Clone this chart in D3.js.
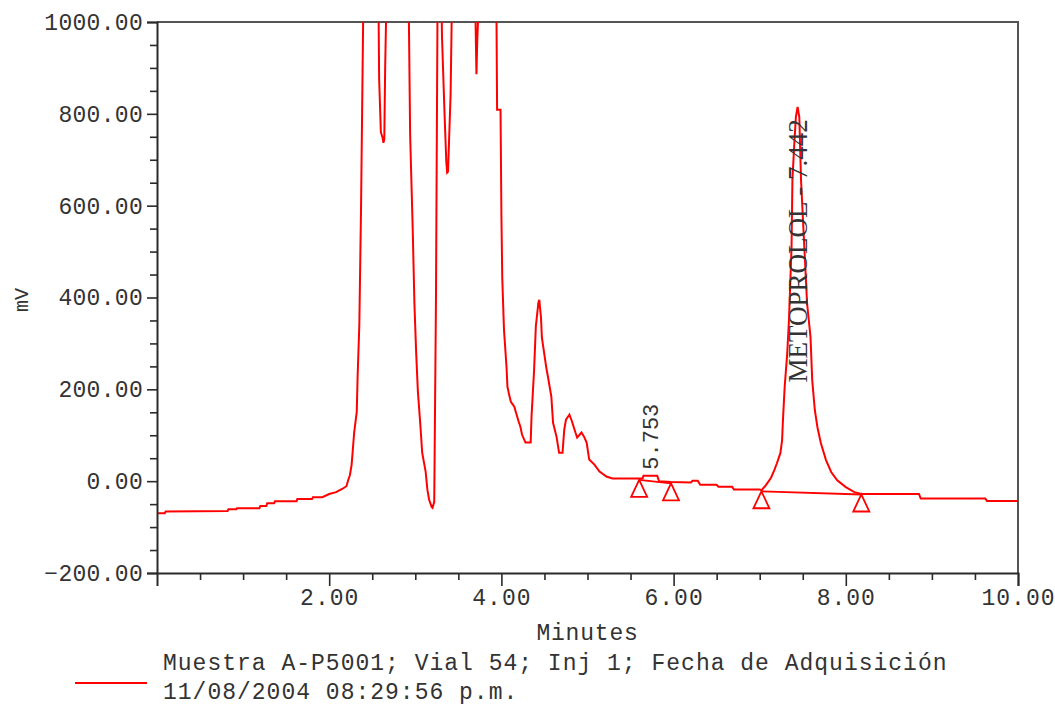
<!DOCTYPE html>
<html>
<head>
<meta charset="utf-8">
<script src="https://cdn.jsdelivr.net/npm/d3@7"></script>
<style>
  html, body { margin: 0; padding: 0; background: #fff; }
  svg { display: block; }
</style>
</head>
<body>
<svg id="chart" width="1055" height="707"></svg>
<script>
// ---- data ----
const xMajorTicks = [2, 4, 6, 8, 10];
const xMinorTicks = [0.5, 1, 1.5, 2.5, 3, 3.5, 4.5, 5, 5.5, 6.5, 7, 7.5, 8.5, 9, 9.5];
const yMajorTicks = [-200, 0, 200, 400, 600, 800, 1000];
const yMinorTicks = [-150, -100, -50, 50, 100, 150, 250, 300, 350, 450, 500, 550, 650, 700, 750, 850, 900, 950];

// chromatogram trace: [minutes, mV]
const trace = [
  [0.00,-70],[0.09,-70],[0.10,-66],[0.82,-65],[0.83,-61],[0.92,-61],[0.93,-59],[1.19,-59],
  [1.20,-54],[1.27,-54],[1.28,-48],[1.36,-48],[1.37,-44],[1.62,-44],[1.63,-39],[1.80,-39],
  [1.81,-35],[1.92,-35],[2.00,-28],[2.08,-24],[2.15,-17],[2.20,-11],[2.22,2],[2.24,13],
  [2.26,35],[2.27,58],[2.29,106],[2.32,151],[2.33,228],[2.35,341],[2.37,598],[2.40,1100],
  [2.57,1100],[2.58,876],[2.60,760],[2.62,748],[2.63,737],[2.64,745],[2.65,901],[2.67,1100],
  [2.92,1100],[2.94,755],[2.97,548],[2.99,385],[3.01,280],[3.03,195],[3.06,119],[3.08,62],
  [3.12,21],[3.14,-18],[3.16,-40],[3.19,-56],[3.20,-58],[3.22,-45],[3.24,395],[3.26,1100],
  [3.30,1100],[3.31,968],[3.34,798],[3.36,696],[3.37,672],[3.38,674],[3.41,842],[3.43,1100],
  [3.68,1100],[3.70,999],[3.71,886],[3.72,962],[3.75,1100],
  [3.94,1100],[3.95,809],[3.99,809],[4.00,580],[4.01,443],[4.03,330],[4.06,247],[4.07,206],
  [4.09,188],[4.11,173],[4.15,162],[4.17,149],[4.20,130],[4.22,119],[4.24,101],[4.28,84],
  [4.34,84],[4.35,141],[4.38,243],[4.40,337],[4.43,389],[4.44,395],[4.46,356],[4.47,313],
  [4.52,249],[4.54,228],[4.58,184],[4.60,127],[4.64,97],[4.67,62],[4.71,62],[4.73,112],
  [4.75,134],[4.79,145],[4.82,130],[4.86,106],[4.88,95],[4.93,106],[4.96,97],[4.99,84],
  [5.02,47],[5.08,36],[5.14,21],[5.22,10],[5.29,6],[5.64,6],[5.65,12],[5.81,12],[5.83,0],
  [5.97,-2],[6.20,-3],[6.22,1],[6.28,1],[6.31,-8],[6.50,-8],[6.52,-12],[6.68,-12],[6.70,-18],
  [7.00,-18],[7.02,-20],[7.07,-9],[7.13,7],[7.17,24],[7.20,39],[7.24,61],[7.26,89],[7.27,133],
  [7.29,205],[7.32,279],[7.34,351],[7.37,510],[7.38,656],[7.40,728],[7.42,793],[7.44,815],
  [7.46,793],[7.48,656],[7.52,503],[7.55,388],[7.59,314],[7.61,220],[7.64,155],[7.67,118],
  [7.71,83],[7.77,46],[7.83,20],[7.90,2],[8.00,-13],[8.10,-24],[8.18,-28],[8.85,-28],
  [8.87,-38],[9.62,-38],[9.64,-43],[10.00,-43]
];

// integration markers (start / end of peaks): [minutes, mV]
const peakMarkers = [[5.60, 3], [5.97, -5], [7.02, -22], [8.18, -29]];
// integration baselines: pairs of marker indices
const baselines = [[0, 1], [2, 3]];
// peak labels
const peakLabels = [
  { time: 5.753, mV: 25, text: "5.753", font: "Liberation Mono", size: 22 },
  { time: 7.442, mV: 215, text: "METOPROLOL - 7.442", font: "Liberation Serif", size: 27 }
];
const xTitle = "Minutes";
const yTitle = "mV";
const legendLines = ["Muestra A-P5001; Vial 54; Inj 1; Fecha de Adquisición", "11/08/2004 08:29:56 p.m."];

// ---- layout ----
const svg = d3.select("#chart");
const L = 157, R = 1018, T = 22, B = 573;
const x = d3.scaleLinear().domain([0, 10]).range([L, R]);
const y = d3.scaleLinear().domain([-200, 1000]).range([B, T]);
const axisColor = "#2a2a2a";
const textColor = "#333";
const red = "#ff0000";

svg.append("defs").append("clipPath").attr("id", "plotclip")
  .append("rect").attr("x", L).attr("y", T).attr("width", R - L).attr("height", B - T);

// frame (top and right)
svg.append("path")
  .attr("d", `M${L},${T}H${R}V${B}`)
  .attr("fill", "none").attr("stroke", "#555").attr("stroke-width", 2);

// trace
const line = d3.line().x(d => x(d[0])).y(d => y(d[1]));
svg.append("path")
  .datum(trace)
  .attr("clip-path", "url(#plotclip)")
  .attr("fill", "none")
  .attr("stroke", red)
  .attr("stroke-width", 2)
  .attr("stroke-linejoin", "miter")
  .attr("d", line);

// baselines
svg.append("g").selectAll("line").data(baselines).join("line")
  .attr("x1", d => x(peakMarkers[d[0]][0])).attr("y1", d => y(peakMarkers[d[0]][1]))
  .attr("x2", d => x(peakMarkers[d[1]][0])).attr("y2", d => y(peakMarkers[d[1]][1]))
  .attr("stroke", red).attr("stroke-width", 1.8);

// triangles
svg.append("g").selectAll("path").data(peakMarkers).join("path")
  .attr("d", d => {
    const px = x(d[0]), py = y(d[1]);
    return `M${px},${py}L${px - 8},${py + 17}L${px + 8},${py + 17}Z`;
  })
  .attr("fill", "none").attr("stroke", red).attr("stroke-width", 1.8);

// peak labels
svg.append("g").selectAll("text").data(peakLabels).join("text")
  .attr("transform", d => `translate(${x(d.time)},${y(d.mV)}) rotate(-90)`)
  .attr("dominant-baseline", "central")
  .attr("font-family", d => d.font)
  .attr("font-size", d => d.size)
  .attr("fill", textColor)
  .text(d => d.text);

// axes
const fmt = d3.format(".2f");
const yAxis = d3.axisLeft(y).tickValues(yMajorTicks).tickFormat(fmt).tickSize(10).tickPadding(4);
const yMinor = d3.axisLeft(y).tickValues(yMinorTicks).tickFormat("").tickSize(7);
const xAxis = d3.axisBottom(x).tickValues(xMajorTicks).tickFormat(fmt).tickSize(13).tickPadding(3);
const xMinor = d3.axisBottom(x).tickValues(xMinorTicks).tickFormat("").tickSize(7);

function styleAxis(g, size) {
  g.selectAll(".domain").attr("stroke", axisColor).attr("stroke-width", 2);
  g.selectAll(".tick line").attr("stroke", axisColor).attr("stroke-width", 1.6);
  g.selectAll("text").attr("font-family", "Liberation Mono").attr("font-size", size).attr("fill", textColor);
}
const gy = svg.append("g").attr("transform", `translate(${L},0)`).call(yAxis);
styleAxis(gy, 23);
gy.selectAll("text").attr("letter-spacing", 0.3);
const gym = svg.append("g").attr("transform", `translate(${L},0)`).call(yMinor);
styleAxis(gym, 23);
gym.select(".domain").remove();

const gx = svg.append("g").attr("transform", `translate(0,${B})`).call(xAxis);
styleAxis(gx, 23);
gx.selectAll("text").attr("letter-spacing", 1);
const gxm = svg.append("g").attr("transform", `translate(0,${B})`).call(xMinor);
styleAxis(gxm, 23);
gxm.select(".domain").remove();

// axis titles
svg.append("text")
  .attr("x", (L + R) / 2).attr("y", 640)
  .attr("text-anchor", "middle")
  .attr("font-family", "Liberation Mono").attr("font-size", 23).attr("letter-spacing", 0.8)
  .attr("fill", textColor)
  .text(xTitle);
svg.append("text")
  .attr("transform", `translate(22,300) rotate(-90)`)
  .attr("text-anchor", "middle").attr("dominant-baseline", "central")
  .attr("font-family", "Liberation Mono").attr("font-size", 20)
  .attr("fill", textColor)
  .text(yTitle);

// legend
svg.append("line")
  .attr("x1", 75).attr("x2", 147).attr("y1", 683).attr("y2", 683)
  .attr("stroke", red).attr("stroke-width", 1.8);
svg.append("g").selectAll("text").data(legendLines).join("text")
  .attr("x", 163).attr("y", (d, i) => 670 + i * 29)
  .attr("font-family", "Liberation Mono").attr("font-size", 23).attr("letter-spacing", 1)
  .attr("fill", textColor)
  .text(d => d);
</script>
</body>
</html>
